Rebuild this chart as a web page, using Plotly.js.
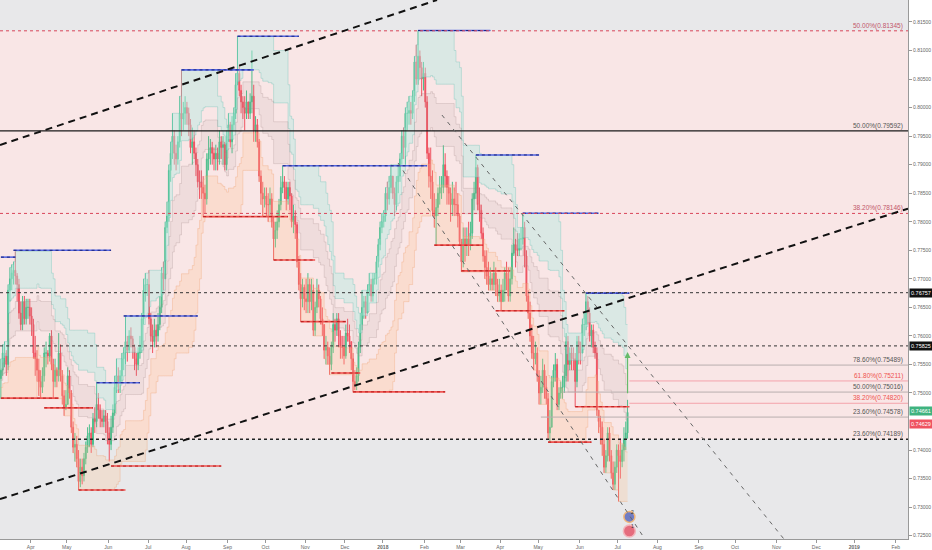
<!DOCTYPE html>
<html><head><meta charset="utf-8">
<script src="https://cdn.plot.ly/plotly-3.0.1.min.js"></script>
<style>html,body{margin:0;padding:0;background:#fff}#chart{width:932px;height:550px}</style>
</head><body><div id="chart"></div>
<script>
// ---------------- DATA (prices in 1/10000) ----------------
const firstDay = '2017-03-09';
const firstOpen = 7525;
const closeP = [
// Mar 2017
7540,7570,7570,7550,7680,7700,7710,7715,7705,7690,7640,7620,7660,7630,7650,7650,7635,
// Apr
7620,7570,7560,7540,7520,7510,7530,7570,7570,7565,7600,7550,7520,7540,7530,7570,7530,7495,7475,7480,
// May
7530,7500,7440,7405,7410,7385,7345,7370,7355,7385,7405,7425,7430,7410,7455,7450,7480,7470,7455,7450,7460,7450,7430,
// Jun
7410,7440,7465,7510,7530,7520,7530,7560,7570,7590,7575,7600,7595,7580,7560,7550,7570,7580,7630,7680,7690,7690,
// Jul
7630,7600,7590,7610,7600,7620,7650,7710,7700,7790,7810,7890,7920,7950,7920,7910,7940,7990,7980,7990,8000,
// Aug
7990,7970,7930,7940,7920,7900,7870,7870,7860,7850,7840,7910,7920,7930,7920,7910,7920,7910,7940,7930,7935,7900,7950,
// Sep
7970,7940,7970,7990,8040,8060,8030,8010,8000,7990,8010,7990,8010,8020,7960,7970,7940,7880,7850,7840,7845,
// Oct
7830,7830,7840,7800,7770,7785,7800,7830,7860,7870,7860,7840,7860,7845,7800,7810,7795,7730,7690,7665,7685,7665,
// Nov
7660,7690,7660,7680,7610,7650,7680,7665,7630,7620,7575,7580,7565,7550,7580,7620,7610,7630,7600,7580,7580,7565,
// Dec
7605,7600,7590,7560,7520,7515,7530,7580,7620,7650,7660,7640,7680,7690,7670,7700,7700,7730,7760,7790,7800,
// Jan 2018
7810,7850,7840,7860,7880,7850,7830,7870,7880,7910,7950,7930,7990,7990,7995,7990,8020,8080,8050,8090,8070,8050,8060,
// Feb
8010,7920,7880,7870,7820,7810,7825,7850,7860,7860,7900,7880,7860,7850,7830,7840,7830,7830,7810,7765,
// Mar
7730,7770,7760,7770,7760,7780,7840,7850,7895,7830,7820,7780,7740,7720,7705,7690,7700,7690,7710,7690,7670,7680,
// Apr
7660,7680,7710,7700,7670,7700,7745,7760,7750,7750,7770,7770,7790,7740,7670,7640,7600,7570,7560,7570,7530,
// May
7500,7510,7540,7510,7490,7430,7440,7520,7540,7550,7480,7500,7510,7510,7530,7590,7550,7570,7560,7560,7520,7590,7570,
// Jun
7570,7620,7620,7660,7640,7600,7610,7580,7570,7470,7450,7440,7410,7370,7390,7430,7390,7360,7340,7370,7400,
// Jul
7390,7380,7400,7420,7430,7466
];
const highP = [
7560,7585,7590,7575,7690,7720,7725,7730,7748,7710,7700,7660,7670,7670,7665,7665,7665,
7650,7630,7600,7575,7560,7540,7545,7580,7590,7575,7605,7610,7560,7560,7545,7605,7585,7540,7505,7505,
7545,7540,7505,7450,7430,7425,7400,7385,7385,7395,7415,7440,7445,7440,7465,7475,7518,7500,7480,7470,7470,7470,7465,
7440,7460,7480,7530,7560,7545,7540,7570,7580,7635,7600,7610,7615,7600,7585,7570,7580,7600,7640,7700,7710,7700,
7715,7640,7620,7630,7620,7640,7670,7720,7730,7800,7835,7900,7940,7990,7960,7935,7950,8020,8066,8010,8020,
8010,8000,7980,7965,7960,7930,7910,7890,7890,7880,7865,7920,7950,7945,7940,7930,7935,7930,7960,7950,7950,7940,7960,
7990,7975,7985,8000,8060,8125,8075,8040,8020,8020,8030,8010,8025,8100,8040,7985,7980,7945,7890,7870,7860,
7860,7850,7860,7850,7810,7800,7820,7840,7880,7898,7880,7870,7870,7870,7850,7830,7820,7800,7740,7710,7700,7690,
7700,7710,7700,7700,7690,7660,7700,7690,7670,7650,7620,7600,7590,7580,7590,7640,7630,7640,7640,7610,7600,7600,
7620,7630,7620,7590,7570,7540,7545,7590,7640,7680,7670,7670,7690,7710,7700,7710,7710,7740,7770,7800,7815,
7820,7860,7870,7880,7900,7880,7860,7880,7900,7920,7960,7965,8000,8010,8020,8010,8030,8090,8110,8135,8100,8080,8080,
8070,8020,7930,7930,7890,7850,7840,7860,7880,7880,7934,7920,7890,7880,7860,7870,7860,7870,7850,7815,
7770,7790,7790,7790,7800,7800,7850,7870,7917,7900,7860,7830,7790,7750,7750,7730,7720,7710,7730,7720,7700,7700,
7690,7700,7720,7730,7720,7720,7760,7790,7770,7780,7780,7790,7815,7800,7750,7680,7660,7620,7600,7590,7580,
7540,7530,7560,7550,7530,7500,7470,7530,7550,7570,7560,7510,7520,7530,7550,7605,7600,7580,7580,7580,7570,7600,7600,
7590,7630,7640,7675,7670,7650,7620,7620,7590,7580,7470,7460,7450,7420,7400,7440,7440,7400,7380,7380,7410,
7410,7420,7410,7440,7450,7488
];
const lowP = [
7490,7530,7545,7530,7540,7660,7680,7690,7690,7660,7630,7610,7610,7620,7620,7630,7620,
7600,7560,7530,7520,7495,7490,7500,7520,7545,7550,7555,7540,7490,7510,7510,7520,7520,7480,7460,7470,
7480,7490,7430,7395,7380,7370,7330,7335,7340,7345,7375,7395,7405,7395,7405,7430,7440,7455,7440,7440,7440,7430,7410,
7380,7400,7430,7460,7500,7500,7500,7520,7540,7550,7555,7570,7580,7560,7540,7530,7540,7560,7570,7620,7660,7670,
7620,7590,7570,7580,7580,7590,7610,7640,7680,7700,7780,7800,7870,7910,7900,7890,7900,7930,7950,7960,7970,
7970,7950,7920,7900,7910,7880,7860,7840,7840,7808,7815,7830,7890,7900,7900,7890,7890,7890,7900,7910,7900,7890,7890,
7940,7930,7920,7960,7980,8040,8020,7990,7980,7960,7980,7980,7980,7990,7940,7940,7930,7870,7830,7810,7825,
7810,7800,7810,7790,7733,7755,7770,7790,7820,7850,7840,7820,7830,7820,7790,7780,7770,7720,7680,7625,7650,7645,
7640,7640,7640,7645,7600,7600,7640,7650,7620,7600,7560,7550,7550,7532,7540,7570,7590,7600,7580,7560,7560,7550,
7560,7590,7570,7540,7501,7505,7505,7520,7570,7610,7630,7630,7640,7670,7660,7660,7690,7690,7720,7750,7780,
7790,7800,7820,7830,7850,7840,7810,7820,7850,7870,7900,7910,7900,7960,7970,7970,7980,8010,8040,8040,8050,8020,8030,
8000,7910,7860,7840,7810,7790,7759,7810,7830,7840,7850,7860,7830,7830,7800,7810,7810,7810,7790,7760,
7712,7720,7730,7740,7740,7750,7770,7820,7840,7820,7800,7770,7730,7700,7690,7680,7680,7680,7680,7670,7660,7660,
7644,7660,7660,7680,7660,7660,7690,7740,7720,7740,7740,7750,7760,7720,7660,7630,7590,7560,7540,7550,7520,
7480,7480,7500,7490,7480,7420,7414,7440,7510,7520,7470,7470,7490,7490,7500,7520,7520,7540,7540,7540,7476,7510,7550,
7550,7570,7600,7610,7620,7590,7580,7570,7560,7460,7430,7410,7390,7360,7360,7380,7380,7350,7330,7330,7360,
7310,7350,7370,7380,7400,7420
];

// month tick labels
const tickDates = ['2017-04-03','2017-05-01','2017-06-01','2017-07-03','2017-08-01','2017-09-01','2017-10-02','2017-11-01','2017-12-01','2018-01-01','2018-02-01','2018-03-01','2018-04-02','2018-05-01','2018-06-01','2018-07-02','2018-08-01','2018-09-03','2018-10-01','2018-11-01','2018-12-03','2019-01-01','2019-02-01'];
const tickLabels = ['Apr','May','Jun','Jul','Aug','Sep','Oct','Nov','Dec','<b>2018</b>','Feb','Mar','Apr','May','Jun','Jul','Aug','Sep','Oct','Nov','Dec','<b>2019</b>','Feb'];
// price tick labels shown on the right scale (0.74500 is hidden behind the price badges)
const priceTicks = [0.725,0.73,0.735,0.74,0.75,0.755,0.76,0.765,0.77,0.775,0.78,0.785,0.79,0.795,0.8,0.805,0.81,0.815];

// resistance (blue) and support (red) segments: level, first bar, last bar
const blueLevels = [0.7738,0.7750,0.7518,0.7635,0.8066,0.8125,0.7898,0.8135,0.7917,0.7815,0.7675];
const blueFrom   = [0,7,53,68,100,131,156,231,263,289,324];
const blueTo     = [8,61,77,109,140,165,236,271,298,331,348];
const redLevels  = [0.7491,0.7474,0.7330,0.7372,0.7809,0.7733,0.7625,0.7535,0.7502,0.7759,0.7714,0.7644,0.7414,0.7476];
const redFrom    = [0,24,43,61,112,151,166,183,195,240,255,274,303,318];
const redTo      = [32,51,69,122,159,174,191,199,246,267,282,312,327,348];

// fibonacci / horizontal levels
const zoneTop = 0.81345, zoneBottom = 0.74189;
const redDotLevels = [0.81345, 0.78146];
const redDotLabels = ['50.00%(0.81345)', '38.20%(0.78146)'];
const blackLevel = 0.79592, blackLabel = '50.00%(0.79592)';
const dashedLevels = [0.76757, 0.75825];
const grayFibLevels = [0.75489, 0.75016, 0.74578];
const grayFibLabels = ['78.60%(0.75489)', '50.00%(0.75016)', '23.60%(0.74578)'];
const grayFibFrom = [348, 311, 299];
const pinkFibLevels = [0.75211, 0.74820];
const pinkFibLabels = ['61.80%(0.75211)', '38.20%(0.74820)'];
const pinkFibFrom = [348, 348];
const baseLabel = '23.60%(0.74189)';

// trend lines [date, price] pairs
const channelStart = [['2017-03-09 00:00',0.79345],['2017-03-09 00:00',0.7314]];
const channelEnd   = [['2018-02-12 00:00',0.81885],['2019-02-11 19:00',0.7823]];
const grayStart = [['2018-02-14 17:00',0.7987],['2018-01-11 10:00',0.7903]];
const grayEnd   = [['2018-11-07 02:00',0.72442],['2018-07-23 02:00',0.72442]];

// price-axis badges
const lastPrice = 0.74661, bidPrice = 0.74629;
const arrowFrom = 0.7497, arrowTo = 0.7572;

// ---------------- BUILD ----------------
const yMin = 0.72442, yMax = 0.81885;
const xStart = '2017-03-09 00:00', xEnd = '2019-02-11 19:00';
const days = [];
{ let t = Date.UTC(2017,2,9); while (days.length < 505) { const wd = new Date(t).getUTCDay(); if (wd !== 0 && wd !== 6) days.push(t); t += 86400000; } }
const iso = ms => new Date(ms).toISOString().slice(0,10);
const barX = days.map(ms => iso(ms) + ' 12:00');

const n = closeP.length;
const O=[],H=[],L=[],C=[];
for (let i=0;i<n;i++){
  const o = i===0 ? firstOpen : closeP[i-1], c = closeP[i];
  O.push(o/1e4); C.push(c/1e4);
  H.push(Math.max(highP[i],o,c)/1e4); L.push(Math.min(lowP[i],o,c)/1e4);
}
const cx = barX.slice(0,n);

// Donchian-based zones
const P = 20;
const tU=[],tL=[],gU=[],gL=[],oU=[],oL=[];
for (let i=0;i<n;i++){
  let hh=-1, ll=9;
  for (let j=Math.max(0,i-P+1); j<=i; j++){ hh=Math.max(hh,H[j]); ll=Math.min(ll,L[j]); }
  const r = hh-ll;
  tU.push(hh); tL.push(ll+0.75*r);
  gU.push(ll+0.66*r); gL.push(ll+0.46*r);
  oU.push(ll+0.28*r); oL.push(ll);
}
function band(u,l,lc,fc){
  return [
    {type:'scatter',mode:'lines',x:cx,y:u,line:{color:lc,width:0.8,shape:'hv'},hoverinfo:'skip'},
    {type:'scatter',mode:'lines',x:cx,y:l,line:{color:lc,width:0.8,shape:'hv'},fill:'tonexty',fillcolor:fc,hoverinfo:'skip'}
  ];
}
function seg(levels,from,to,color,width,dash){
  const x=[],y=[];
  levels.forEach((lv,k)=>{ x.push(barX[from[k]],barX[to[k]],null); y.push(lv,lv,null); });
  return {type:'scatter',mode:'lines',x,y,line:{color,width,dash},hoverinfo:'skip'};
}

const traces = [
  ...band(tU,tL,'rgba(110,195,185,0.45)','rgba(180,235,226,0.45)'),
  ...band(gU,gL,'rgba(160,135,135,0.3)','rgba(175,150,150,0.12)'),
  ...band(oU,oL,'rgba(240,160,110,0.4)','rgba(255,190,140,0.25)'),
  {type:'candlestick',x:cx,open:O,high:H,low:L,close:C,
   increasing:{line:{color:'#4cbf8c',width:1},fillcolor:'#4cbf8c'},
   decreasing:{line:{color:'#ef5361',width:1},fillcolor:'#ef5361'},
   whiskerwidth:0,hoverinfo:'skip'},
  seg(blueLevels,blueFrom,blueTo,'#5566e0',1.6,'solid'),
  seg(blueLevels,blueFrom,blueTo,'#1a237e',1,'dot'),
  seg(redLevels,redFrom,redTo,'#ef5350',1.6,'solid'),
  seg(redLevels,redFrom,redTo,'#b71c1c',1,'dot')
];

// event markers at the bottom
const evY = f => yMin + f*(yMax-yMin);
traces.push({type:'scatter',mode:'markers',x:[barX[348],barX[348]],y:[evY(0.041),evY(0.015)],
  marker:{size:[11,12],color:['#3f51b5','#e53950'],line:{color:['#f5a04a','#f7a0a8'],width:1.5}},hoverinfo:'skip'});

const shapes = [];
shapes.push({type:'rect',layer:'below',xref:'paper',x0:0,x1:1,yref:'y',y0:zoneBottom,y1:zoneTop,fillcolor:'#f9e6e6',line:{width:0}});
redDotLevels.forEach(v=>shapes.push({type:'line',xref:'paper',x0:0,x1:1,yref:'y',y0:v,y1:v,line:{color:'#d9455a',width:1,dash:'dot'}}));
shapes.push({type:'line',xref:'paper',x0:0,x1:1,yref:'y',y0:blackLevel,y1:blackLevel,line:{color:'#1a1a1a',width:1.4}});
dashedLevels.forEach(v=>shapes.push({type:'line',xref:'paper',x0:0,x1:1,yref:'y',y0:v,y1:v,line:{color:'#333',width:1,dash:'3px,3px'}}));
shapes.push({type:'line',xref:'paper',x0:0,x1:1,yref:'y',y0:zoneBottom,y1:zoneBottom,line:{color:'#222',width:1.4,dash:'dot'}});
grayFibLevels.forEach((v,k)=>shapes.push({type:'line',xref:'x',x0:barX[grayFibFrom[k]],x1:xEnd,yref:'y',y0:v,y1:v,line:{color:'#b8aeae',width:1}}));
pinkFibLevels.forEach((v,k)=>shapes.push({type:'line',xref:'x',x0:barX[pinkFibFrom[k]],x1:xEnd,yref:'y',y0:v,y1:v,line:{color:'#f4a3ab',width:1}}));
channelStart.forEach((s,k)=>shapes.push({type:'line',xref:'x',yref:'y',x0:s[0],y0:s[1],x1:channelEnd[k][0],y1:channelEnd[k][1],line:{color:'#111',width:2,dash:'7px,5px'}}));
grayStart.forEach((s,k)=>shapes.push({type:'line',xref:'x',yref:'y',x0:s[0],y0:s[1],x1:grayEnd[k][0],y1:grayEnd[k][1],line:{color:'#666',width:1,dash:'4px,5px'}}));

const ann = [];
function lab(v,t,col){ ann.push({xref:'paper',x:0.997,xanchor:'right',yref:'y',y:v,yanchor:'bottom',yshift:-1,text:t,showarrow:false,font:{size:6.5,color:col}}); }
redDotLabels.forEach((t,k)=>lab(redDotLevels[k],t,'#c2566a'));
lab(blackLevel,blackLabel,'#555');
grayFibLevels.forEach((v,k)=>lab(v,grayFibLabels[k],'#555'));
pinkFibLevels.forEach((v,k)=>lab(v,pinkFibLabels[k],'#ef5350'));
lab(zoneBottom,baseLabel,'#555');
function badge(v,bg,ys){ ann.push({xref:'paper',x:1,xanchor:'left',xshift:1,yref:'y',y:v,yanchor:'middle',yshift:ys||0,text:v.toFixed(5),showarrow:false,bgcolor:bg,borderpad:1,font:{size:5.5,color:'#fff'}}); }
dashedLevels.forEach(v=>badge(v,'#111'));
badge(lastPrice,'#3fb37f',1);
badge(bidPrice,'#ef5361',-10);
ann.push({xref:'x',yref:'y',x:barX[347],y:arrowTo,axref:'x',ayref:'y',ax:barX[347],ay:arrowFrom,text:'',showarrow:true,arrowhead:2,arrowsize:1,arrowwidth:1.2,arrowcolor:'#66bb6a'});
ann.push({xref:'x',yref:'y',x:barX[350],y:evY(0.05),text:'2',showarrow:false,font:{size:5,color:'#333'}});
ann.push({xref:'x',yref:'y',x:barX[350],y:evY(0.024),text:'1',showarrow:false,font:{size:5,color:'#333'}});

const layout = {
  width:932,height:550,margin:{l:0,r:24,t:0,b:11},
  paper_bgcolor:'#ffffff',plot_bgcolor:'#e8e8ea',showlegend:false,
  font:{family:'Liberation Sans, Arial, sans-serif',size:5,color:'#666'},
  xaxis:{type:'date',range:[xStart,xEnd],rangebreaks:[{bounds:['sat','mon']}],rangeslider:{visible:false},
    showgrid:false,zeroline:false,tickmode:'array',tickvals:tickDates,ticktext:tickLabels,
    ticks:'outside',ticklen:3,tickcolor:'#999',showline:true,linecolor:'#999',linewidth:1,
    tickfont:{size:5,color:'#666'}},
  yaxis:{side:'right',range:[yMin,yMax],tickmode:'array',tickvals:priceTicks,tickformat:'.5f',showgrid:false,zeroline:false,
    ticks:'outside',ticklen:3,tickcolor:'#999',showline:true,linecolor:'#999',linewidth:1,
    tickfont:{size:5,color:'#666'}},
  shapes,annotations:ann
};
Plotly.newPlot('chart',traces,layout,{staticPlot:true,displayModeBar:false});
</script></body></html>
